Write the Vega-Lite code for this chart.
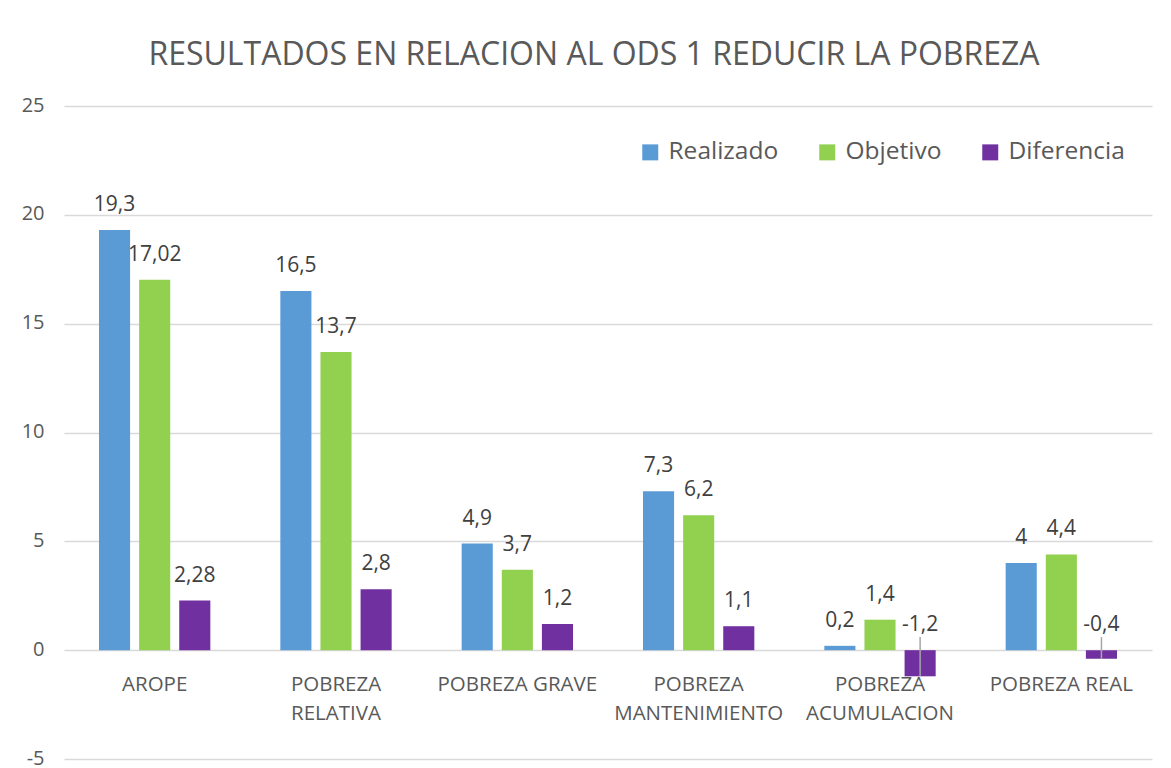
{
  "$schema": "https://vega.github.io/schema/vega-lite/v6.json",
  "autosize": {"type": "none"},
  "width": 1088,
  "height": 653,
  "padding": {"left": 64, "top": 106, "right": 19, "bottom": 9},
  "background": "white",
  "config": {
    "font": "Open Sans",
    "view": {"stroke": null},
    "locale": {"number": {"decimal": ",", "thousands": ".", "grouping": [3], "currency": ["", " €"], "minus": "-"}}
  },
  "title": {
    "text": "RESULTADOS EN RELACION AL ODS 1 REDUCIR LA POBREZA",
    "fontSize": 32,
    "font": "Open Sans",
    "fontWeight": "normal",
    "color": "#595959",
    "anchor": "middle",
    "dx": -14,
    "offset": 23
  },
  "data": {
    "values": [
      {"categoria": "AROPE", "serie": "Realizado", "valor": 19.3},
      {"categoria": "AROPE", "serie": "Objetivo", "valor": 17.02},
      {"categoria": "AROPE", "serie": "Diferencia", "valor": 2.28},
      {"categoria": "POBREZA RELATIVA", "serie": "Realizado", "valor": 16.5},
      {"categoria": "POBREZA RELATIVA", "serie": "Objetivo", "valor": 13.7},
      {"categoria": "POBREZA RELATIVA", "serie": "Diferencia", "valor": 2.8},
      {"categoria": "POBREZA GRAVE", "serie": "Realizado", "valor": 4.9},
      {"categoria": "POBREZA GRAVE", "serie": "Objetivo", "valor": 3.7},
      {"categoria": "POBREZA GRAVE", "serie": "Diferencia", "valor": 1.2},
      {"categoria": "POBREZA MANTENIMIENTO", "serie": "Realizado", "valor": 7.3},
      {"categoria": "POBREZA MANTENIMIENTO", "serie": "Objetivo", "valor": 6.2},
      {"categoria": "POBREZA MANTENIMIENTO", "serie": "Diferencia", "valor": 1.1},
      {"categoria": "POBREZA ACUMULACION", "serie": "Realizado", "valor": 0.2},
      {"categoria": "POBREZA ACUMULACION", "serie": "Objetivo", "valor": 1.4},
      {"categoria": "POBREZA ACUMULACION", "serie": "Diferencia", "valor": -1.2},
      {"categoria": "POBREZA REAL", "serie": "Realizado", "valor": 4},
      {"categoria": "POBREZA REAL", "serie": "Objetivo", "valor": 4.4},
      {"categoria": "POBREZA REAL", "serie": "Diferencia", "valor": -0.4}
    ]
  },
  "transform": [
    {"calculate": "max(datum.valor, 0)", "as": "posEtiqueta"}
  ],
  "encoding": {
    "x": {
      "field": "categoria",
      "type": "nominal",
      "sort": null,
      "scale": {"paddingInner": 0.386, "paddingOuter": 0.193},
      "axis": {
        "title": null,
        "orient": "bottom",
        "offset": -109,
        "domain": false,
        "ticks": false,
        "labelAngle": 0,
        "labelFontSize": 20.5,
        "labelColor": "#595959",
        "labelPadding": 24,
        "labelLineHeight": 29,
        "labelBaseline": "top",
        "labelExpr": "indexof(['POBREZA RELATIVA','POBREZA MANTENIMIENTO','POBREZA ACUMULACION'], datum.value) >= 0 ? split(datum.value, ' ') : datum.value"
      }
    },
    "xOffset": {
      "field": "serie",
      "type": "nominal",
      "sort": ["Realizado", "Objetivo", "Diferencia"],
      "scale": {"paddingInner": 0.225, "paddingOuter": 0}
    }
  },
  "layer": [
    {
      "mark": {"type": "bar"},
      "encoding": {
        "y": {
          "field": "valor",
          "type": "quantitative",
          "scale": {"domain": [-5, 25], "nice": false, "zero": false},
          "axis": {
            "title": null,
            "values": [-5, 0, 5, 10, 15, 20, 25],
            "domain": false,
            "ticks": false,
            "labelFontSize": 20,
            "labelColor": "#595959",
            "labelPadding": 20,
            "labelOffset": -1,
            "gridColor": "#d9d9d9",
            "gridWidth": 1.5
          }
        },
        "color": {
          "field": "serie",
          "type": "nominal",
          "sort": ["Realizado", "Objetivo", "Diferencia"],
          "scale": {"domain": ["Realizado", "Objetivo", "Diferencia"], "range": ["#5B9BD5", "#92D050", "#7030A0"]},
          "legend": {
            "title": null,
            "orient": "none",
            "direction": "horizontal",
            "legendX": 574,
            "legendY": 34,
            "symbolType": "square",
            "symbolSize": 256,
            "symbolStrokeWidth": 0,
            "labelFontSize": 24.5,
            "labelColor": "#595959",
            "labelOffset": 6,
            "columnPadding": 36
          }
        }
      }
    },
    {
      "transform": [{"filter": "datum.valor < 0"}],
      "mark": {"type": "rule", "color": "#a6a6a6", "strokeWidth": 1.5},
      "encoding": {
        "y": {"field": "valor", "type": "quantitative", "scale": {"domain": [-5, 25], "nice": false, "zero": false}},
        "y2": {"datum": 0.6}
      }
    },
    {
      "mark": {"type": "text", "dy": -25, "fontSize": 21, "color": "#404040", "baseline": "middle"},
      "encoding": {
        "y": {"field": "posEtiqueta", "type": "quantitative", "scale": {"domain": [-5, 25], "nice": false, "zero": false}},
        "text": {"field": "valor", "type": "quantitative", "format": "~g"}
      }
    }
  ]
}
